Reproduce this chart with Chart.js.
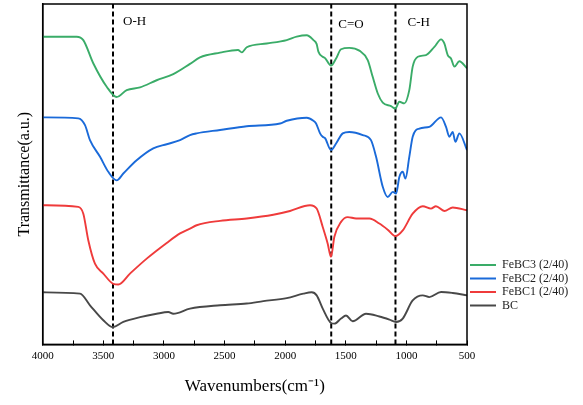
<!DOCTYPE html>
<html>
<head>
<meta charset="utf-8">
<script src="https://cdn.jsdelivr.net/npm/chart.js@4.4.1/dist/chart.umd.min.js"></script>
<style>
  html, body { margin: 0; padding: 0; background: #fff; }
  #wrap { width: 583px; height: 405px; }
</style>
</head>
<body>
<div id="wrap"><canvas id="ftirChart"></canvas></div>
<script>
// Wavenumbers (cm-1) and transmittance (a.u., stacked)
const wnBC3 = [4000, 3720, 3665, 3583, 3472, 3390, 3307, 3197, 3060, 2923, 2785, 2703, 2537, 2389, 2358, 2317, 2152, 1987, 1905, 1822, 1767, 1740, 1726, 1690, 1671, 1622, 1580, 1539, 1471, 1388, 1319, 1278, 1236, 1195, 1127, 1091, 1058, 1017, 976, 948, 906, 838, 769, 714, 687, 659, 632, 604, 563, 500];
const tBC3 = [90.4, 90.4, 89.4, 82.6, 75.7, 72.7, 74.7, 75.5, 77.6, 79.4, 82.4, 84.3, 85.7, 86.5, 85.8, 87.3, 88.4, 89.4, 90.4, 90.8, 89.4, 88.2, 86, 84.5, 84.1, 81.9, 84, 86.7, 87.1, 86.3, 83.5, 78.6, 73.7, 71, 70, 69.3, 71.3, 70.8, 74.7, 81.6, 84.5, 85, 87.4, 89.6, 88.4, 85, 84, 81.6, 83.2, 81.1];

const wnBC2 = [4000, 3706, 3651, 3610, 3527, 3459, 3390, 3335, 3225, 3088, 2977, 2867, 2785, 2730, 2537, 2317, 2042, 1987, 1822, 1767, 1745, 1712, 1690, 1671, 1622, 1580, 1525, 1471, 1360, 1292, 1250, 1195, 1154, 1112, 1085, 1058, 1030, 1008, 976, 948, 893, 811, 714, 673, 646, 618, 596, 563, 500];
const tBC2 = [66.7, 66.4, 64.4, 60, 55.1, 50.7, 48.2, 50.2, 54.1, 57.6, 58.8, 60, 61.5, 62, 63, 64.1, 64.9, 65.7, 66.6, 65.7, 64.9, 62, 61, 60.6, 57.1, 59, 62, 62.4, 61.5, 60, 55.1, 46.3, 43.3, 44.8, 44.3, 49.2, 50.7, 48.7, 55.1, 61, 63.4, 63.9, 66.7, 63.9, 61, 62.4, 59.5, 62, 57.1];

const wnBC1 = [4000, 3706, 3665, 3624, 3569, 3500, 3418, 3376, 3280, 3142, 2977, 2867, 2785, 2730, 2537, 2317, 2098, 1960, 1795, 1740, 1690, 1649, 1622, 1594, 1539, 1484, 1415, 1305, 1223, 1154, 1091, 1030, 948, 865, 797, 756, 687, 618, 500];
const tBC1 = [40.9, 40.4, 38.4, 30.6, 23.7, 20.8, 17.8, 17.6, 20.8, 25.2, 29.8, 32.6, 34, 35, 36.3, 37, 38.1, 39.2, 40.9, 39.9, 34.5, 29.6, 25.7, 31.6, 36, 37.4, 37, 37, 35.5, 33.7, 31.8, 33.5, 38.4, 40.6, 39.9, 40.6, 39.2, 40.2, 39.4];

const wnBC = [4000, 3692, 3610, 3500, 3422, 3335, 3197, 3060, 2964, 2923, 2785, 2537, 2317, 2180, 1987, 1850, 1781, 1740, 1690, 1622, 1594, 1539, 1498, 1443, 1333, 1223, 1140, 1085, 1030, 948, 865, 811, 714, 618, 500];
const tBC = [15.3, 14.9, 11.5, 7.1, 5.1, 6.6, 8, 9, 9.5, 9, 10.5, 11.5, 12, 12.7, 13.6, 14.9, 15.3, 14.4, 10.5, 6.3, 6.1, 7.6, 8.5, 6.8, 9, 8.2, 7.3, 6.6, 7.6, 12.9, 14.4, 13.9, 15.4, 15.1, 14.4];

const seriesNames = ['FeBC3 (2/40)', 'FeBC2 (2/40)', 'FeBC1 (2/40)', 'BC'];
const seriesColors = ['#3aac68', '#1a6ad9', '#ef3b3b', '#484848'];

// marker bands
const bandPos = [3420, 1620, 1090];
const bandNames = ['O-H', 'C=O', 'C-H'];

const xTicks = [4000, 3500, 3000, 2500, 2000, 1500, 1000, 500];

const SERIF = "'Liberation Serif', 'Times New Roman', serif";

function toPoints(wn, t) {
  return wn.map((w, i) => ({ x: w, y: t[i] }));
}

const spectra = [
  toPoints(wnBC3, tBC3),
  toPoints(wnBC2, tBC2),
  toPoints(wnBC1, tBC1),
  toPoints(wnBC, tBC)
];

const datasets = spectra.map((pts, i) => ({
  label: seriesNames[i],
  data: pts,
  borderColor: seriesColors[i],
  borderWidth: 1.9,
  pointRadius: 0,
  cubicInterpolationMode: 'monotone',
  fill: false
}));

bandPos.forEach(p => {
  datasets.push({
    label: '_band',
    data: [{ x: p, y: 0 }, { x: p, y: 100 }],
    borderColor: '#000',
    borderWidth: 2,
    borderDash: [5, 3],
    pointRadius: 0,
    fill: false
  });
});

const decorPlugin = {
  id: 'decor',
  afterDatasetsDraw(chart) {
    const { ctx, chartArea, scales } = chart;
    ctx.save();
    // box around the plot
    ctx.strokeStyle = '#000';
    ctx.lineWidth = 1.5;
    ctx.strokeRect(chartArea.left, chartArea.top, chartArea.right - chartArea.left, chartArea.bottom - chartArea.top);

    // band labels
    ctx.fillStyle = '#000';
    ctx.font = '13px ' + SERIF;
    ctx.textBaseline = 'middle';
    ctx.textAlign = 'left';
    const labelY = [22, 25, 23];
    const labelDx = [10, 7, 12];
    bandPos.forEach((p, i) => {
      const x = scales.x.getPixelForValue(p);
      ctx.fillText(bandNames[i], x + labelDx[i], labelY[i]);
    });

    // legend
    ctx.font = '12px ' + SERIF;
    const legY = [265, 278.5, 292, 305.5];
    seriesNames.forEach((name, i) => {
      ctx.strokeStyle = seriesColors[i];
      ctx.lineWidth = 2;
      ctx.setLineDash([]);
      ctx.beginPath();
      ctx.moveTo(470, legY[i]);
      ctx.lineTo(496, legY[i]);
      ctx.stroke();
      ctx.fillStyle = '#222';
      ctx.fillText(name, 502, legY[i]);
    });
    ctx.restore();
  }
};

new Chart(document.getElementById('ftirChart'), {
  type: 'line',
  data: { datasets: datasets },
  options: {
    responsive: true,
    maintainAspectRatio: false,
    animation: false,
    layout: { padding: { left: 11.5, right: 116, top: 4, bottom: 4 } },
    plugins: {
      legend: { display: false },
      tooltip: { enabled: false }
    },
    scales: {
      x: {
        type: 'linear',
        reverse: true,
        min: 500,
        max: 4000,
        border: { display: true, color: '#000', width: 1.5 },
        grid: { drawOnChartArea: false, drawTicks: true, tickLength: -4, color: '#000', lineWidth: 1 },
        ticks: {
          stepSize: 250,
          autoSkip: false,
          maxRotation: 0,
          padding: 9,
          color: '#000',
          font: { family: SERIF, size: 11 },
          callback: v => (xTicks.includes(v) ? String(v) : '')
        },
        title: {
          display: true,
          text: 'Wavenumbers(cm⁻¹)',
          color: '#000',
          font: { family: SERIF, size: 17 },
          padding: { top: 5, bottom: 4 }
        }
      },
      y: {
        min: 0,
        max: 100,
        border: { display: true, color: '#000', width: 1.5 },
        grid: { display: false, drawTicks: false },
        ticks: { display: false },
        title: {
          display: true,
          text: 'Transmittance(a.u.)',
          color: '#000',
          font: { family: SERIF, size: 16 },
          padding: { top: 4, bottom: 8 }
        }
      }
    }
  },
  plugins: [decorPlugin]
});
</script>
</body>
</html>
